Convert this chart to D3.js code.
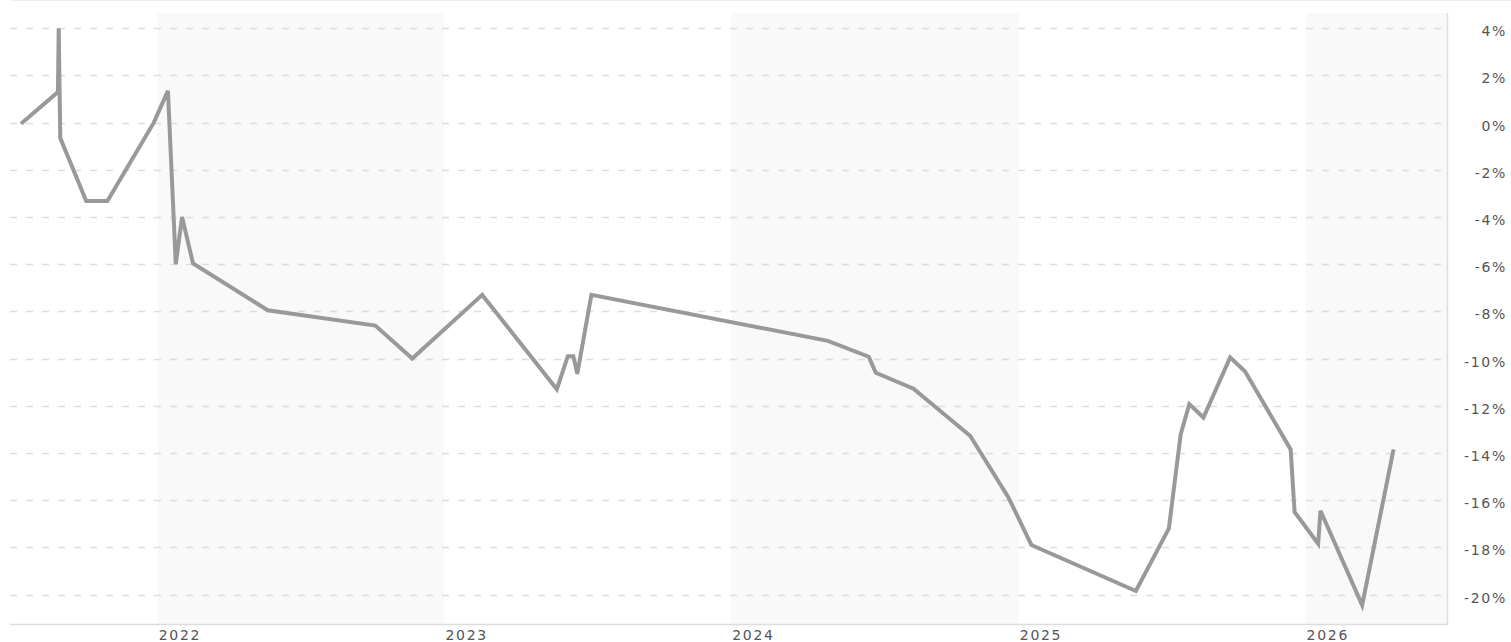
<!DOCTYPE html>
<html>
<head>
<meta charset="utf-8">
<script src="https://cdn.jsdelivr.net/npm/d3@7"></script>
<style>
    body { margin: 0; background: #fff; }
    svg { display: block; }
    .tick-label { font-family: "DejaVu Sans", Verdana, sans-serif; font-size: 14px; fill: #555; letter-spacing: 1.7px; }
</style>
</head>
<body>
<svg id="chart" width="1511" height="642"></svg>
<script>
// dates of each point in the line
const dates = [
    '2021-07-11', '2021-08-27', '2021-08-28', '2021-08-30', '2021-10-02', '2021-10-29',
    '2021-12-27', '2022-01-14', '2022-01-24', '2022-02-01', '2022-02-15', '2022-05-21',
    '2022-10-05', '2022-11-21', '2023-02-18', '2023-05-24', '2023-06-07', '2023-06-14',
    '2023-06-19', '2023-07-07', '2024-05-03', '2024-06-24', '2024-07-03', '2024-08-20',
    '2024-10-31', '2024-12-19', '2025-01-17', '2025-05-30', '2025-07-11', '2025-07-26',
    '2025-08-06', '2025-08-24', '2025-09-27', '2025-10-16', '2025-12-13', '2025-12-18',
    '2026-01-17', '2026-01-20', '2026-03-14', '2026-04-23'
];

// percent change
const values = [
    -0.05, 1.3, 4.0, -0.65, -3.32, -3.32,
    0, 1.35, -6.0, -4.0, -5.97, -7.95,
    -8.6, -10.0, -7.3, -11.3, -9.9, -9.9,
    -10.65, -7.3, -9.25, -9.92, -10.6, -11.28,
    -13.27, -15.9, -17.9, -19.85, -17.2, -13.22,
    -11.93, -12.5, -9.95, -10.55, -13.85, -16.5,
    -17.85, -16.45, -20.45, -13.85
];

const yearTicks = [2022, 2023, 2024, 2025, 2026];
const shadedYears = [2022, 2024, 2026];
const percentTicks = [4, 2, 0, -2, -4, -6, -8, -10, -12, -14, -16, -18, -20];

const parseDate = d3.timeParse('%Y-%m-%d');
const points = dates.map((d, i) => ({date: parseDate(d), value: values[i]}));

const plot = {left: 10, right: 1447, top: 13, bottom: 624};

const x = d3.scaleTime()
    .domain([parseDate('2021-06-27'), parseDate('2026-06-30')])
    .range([plot.left, plot.right]);

const y = d3.scaleLinear()
    .domain([-20, 4])
    .range([594.5, 28.3]);

const svg = d3.select('#chart');

// top separator
svg.append('line')
    .attr('x1', plot.left).attr('x2', 1511)
    .attr('y1', 0.5).attr('y2', 0.5)
    .style('stroke', '#eeeeee');

// alternating year bands
svg.append('g')
    .selectAll('rect')
    .data(shadedYears)
    .enter().append('rect')
    .attr('x', d => x(new Date(d, 0, 1)))
    .attr('y', plot.top)
    .attr('width', d => Math.min(x(new Date(d + 1, 0, 1)), plot.right) - x(new Date(d, 0, 1)))
    .attr('height', plot.bottom - plot.top)
    .style('fill', '#f9f9f9');

// dashed grid
svg.append('g')
    .selectAll('line')
    .data(percentTicks)
    .enter().append('line')
    .attr('x1', plot.left).attr('x2', plot.right)
    .attr('y1', d => Math.round(y(d)) + 0.5)
    .attr('y2', d => Math.round(y(d)) + 0.5)
    .style('stroke', '#dddddd')
    .style('stroke-width', 1.5)
    .style('stroke-dasharray', '7,9');

// frame: right and bottom
svg.append('line')
    .attr('x1', plot.right + 0.5).attr('x2', plot.right + 0.5)
    .attr('y1', plot.top).attr('y2', plot.bottom)
    .style('stroke', '#dddddd')
    .style('stroke-width', 1.5);

svg.append('line')
    .attr('x1', plot.left).attr('x2', plot.right + 1)
    .attr('y1', plot.bottom + 0.5).attr('y2', plot.bottom + 0.5)
    .style('stroke', '#dddddd')
    .style('stroke-width', 1.5);

// y labels on the right
svg.append('g')
    .selectAll('text')
    .data(percentTicks)
    .enter().append('text')
    .attr('class', 'tick-label')
    .attr('x', 1507)
    .attr('y', d => y(d) + 8)
    .attr('text-anchor', 'end')
    .text(d => d + '%');

// x labels, left aligned at year start
svg.append('g')
    .selectAll('text')
    .data(yearTicks)
    .enter().append('text')
    .attr('class', 'tick-label')
    .attr('x', d => x(new Date(d, 0, 1)) + 1)
    .attr('y', 640)
    .text(d => d);

const line = d3.line()
    .x(d => x(d.date))
    .y(d => y(d.value));

svg.append('path')
    .datum(points)
    .attr('d', line)
    .style('fill', 'none')
    .style('stroke', '#999999')
    .style('stroke-width', 4)
    .style('stroke-linejoin', 'miter');
</script>
</body>
</html>
